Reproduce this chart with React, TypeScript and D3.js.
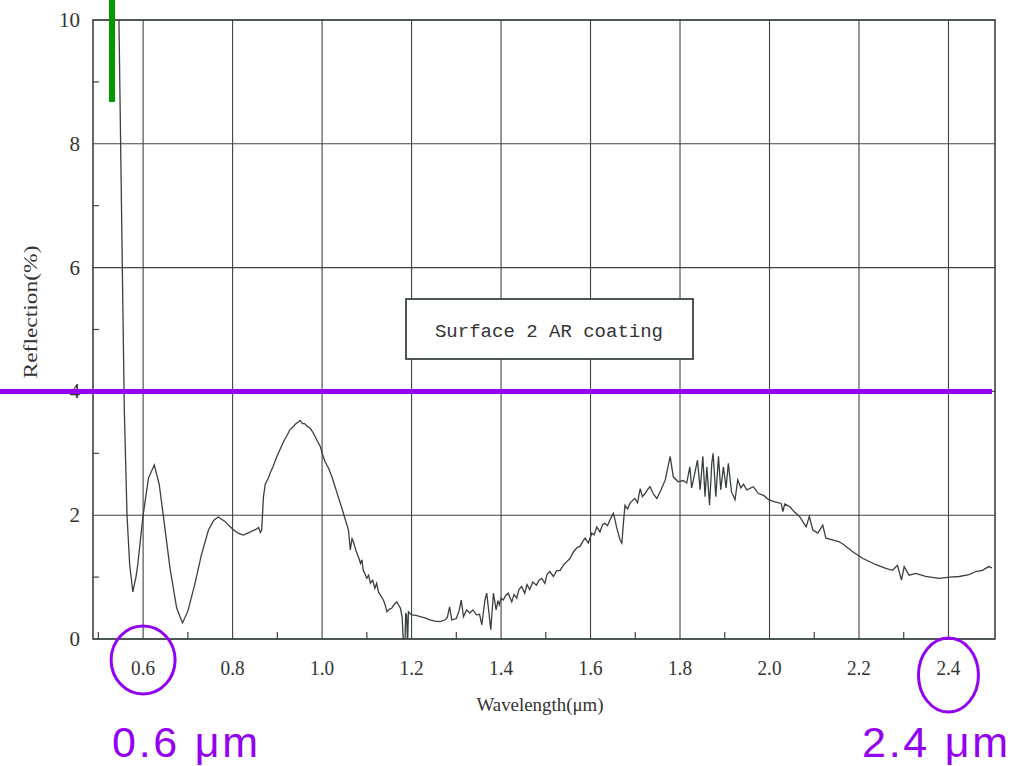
import * as d3 from "d3";

// wavelength (µm) / reflection (%)
const wavelength = [
  0.540, 0.546, 0.552, 0.558, 0.564, 0.570, 0.577, 0.584, 0.588, 0.600, 0.612, 0.625, 0.636, 0.645, 0.660,
  0.675, 0.688, 0.700, 0.716, 0.730, 0.746, 0.758, 0.768, 0.783, 0.798, 0.812, 0.824, 0.840, 0.852, 0.858,
  0.862, 0.865, 0.869, 0.873, 0.880, 0.884, 0.890, 0.899, 0.906, 0.914, 0.921, 0.928, 0.934, 0.940, 0.946,
  0.951, 0.956, 0.961, 0.966, 0.974, 0.981, 0.988, 0.996, 1.001, 1.007, 1.015, 1.022, 1.029, 1.036, 1.044,
  1.051, 1.059, 1.063, 1.067, 1.070, 1.076, 1.081, 1.086, 1.089, 1.092, 1.096, 1.100, 1.104, 1.108, 1.113,
  1.118, 1.122, 1.126, 1.131, 1.137, 1.141, 1.145, 1.150, 1.156, 1.160, 1.167, 1.171, 1.175, 1.179, 1.182,
  1.185, 1.187, 1.189, 1.191, 1.193, 1.200, 1.210, 1.219, 1.230, 1.241, 1.252, 1.264, 1.275, 1.280, 1.285,
  1.290, 1.300, 1.306, 1.311, 1.316, 1.323, 1.330, 1.337, 1.345, 1.352, 1.357, 1.364, 1.368, 1.373, 1.377,
  1.383, 1.389, 1.393, 1.396, 1.400, 1.405, 1.410, 1.416, 1.424, 1.429, 1.435, 1.440, 1.446, 1.453, 1.458,
  1.464, 1.471, 1.479, 1.485, 1.491, 1.498, 1.503, 1.509, 1.517, 1.524, 1.532, 1.540, 1.547, 1.554, 1.562,
  1.569, 1.577, 1.583, 1.588, 1.595, 1.603, 1.608, 1.614, 1.621, 1.627, 1.632, 1.638, 1.643, 1.651, 1.655,
  1.658, 1.666, 1.670, 1.674, 1.677, 1.683, 1.688, 1.694, 1.699, 1.705, 1.711, 1.716, 1.722, 1.728, 1.733,
  1.740, 1.748, 1.757, 1.767, 1.778, 1.785, 1.796, 1.807, 1.815, 1.822, 1.826, 1.833, 1.839, 1.845, 1.851,
  1.856, 1.860, 1.866, 1.871, 1.874, 1.880, 1.886, 1.891, 1.897, 1.903, 1.908, 1.915, 1.923, 1.929, 1.936,
  1.942, 1.949, 1.964, 1.975, 1.987, 1.998, 2.010, 2.026, 2.030, 2.034, 2.045, 2.056, 2.067, 2.082, 2.089,
  2.097, 2.108, 2.119, 2.126, 2.141, 2.156, 2.167, 2.186, 2.209, 2.238, 2.260, 2.275, 2.286, 2.295, 2.301,
  2.312, 2.327, 2.349, 2.379, 2.403, 2.424, 2.446, 2.461, 2.476, 2.483, 2.490, 2.497,
];
const reflection = [
  11.5, 10.0, 6.8, 3.70, 2.00, 1.20, 0.76, 1.00, 1.20, 2.00, 2.60, 2.81, 2.50, 2.00, 1.15,
  0.50, 0.26, 0.45, 0.90, 1.35, 1.76, 1.92, 1.97, 1.90, 1.79, 1.71, 1.68, 1.73, 1.77, 1.80,
  1.72, 1.76, 2.30, 2.50, 2.60, 2.68, 2.78, 2.95, 3.06, 3.19, 3.28, 3.38, 3.42, 3.47, 3.50,
  3.53, 3.48, 3.48, 3.44, 3.40, 3.32, 3.22, 3.11, 2.98, 2.86, 2.75, 2.62, 2.46, 2.30, 2.12,
  1.95, 1.76, 1.44, 1.62, 1.57, 1.42, 1.33, 1.22, 1.28, 1.11, 1.05, 0.98, 1.03, 0.90, 0.95,
  0.82, 0.90, 0.76, 0.70, 0.63, 0.55, 0.44, 0.48, 0.50, 0.55, 0.60, 0.55, 0.50, 0.35, -0.10,
  -0.10, 0.42, 0.38, -0.10, 0.44, 0.39, 0.38, 0.36, 0.34, 0.31, 0.29, 0.28, 0.31, 0.35, 0.52,
  0.31, 0.33, 0.45, 0.63, 0.36, 0.47, 0.42, 0.47, 0.39, 0.40, 0.23, 0.63, 0.74, 0.42, 0.15,
  0.74, 0.47, 0.62, 0.55, 0.66, 0.63, 0.70, 0.74, 0.60, 0.72, 0.66, 0.80, 0.85, 0.74, 0.88,
  0.80, 0.92, 0.87, 0.95, 0.98, 0.90, 1.05, 1.09, 1.01, 1.10, 1.11, 1.20, 1.25, 1.30, 1.41,
  1.47, 1.50, 1.58, 1.63, 1.55, 1.71, 1.68, 1.81, 1.73, 1.85, 1.87, 1.83, 1.92, 2.03, 1.92,
  1.81, 1.60, 1.55, 1.92, 2.16, 2.10, 2.19, 2.24, 2.27, 2.20, 2.43, 2.30, 2.35, 2.42, 2.46,
  2.35, 2.27, 2.40, 2.57, 2.95, 2.62, 2.54, 2.56, 2.52, 2.78, 2.44, 2.68, 2.89, 2.41, 2.95,
  2.30, 2.78, 2.16, 2.84, 3.00, 2.30, 2.95, 2.41, 2.78, 2.44, 2.84, 2.38, 2.25, 2.57, 2.44,
  2.50, 2.41, 2.46, 2.35, 2.32, 2.25, 2.22, 2.19, 2.06, 2.18, 2.14, 2.05, 1.98, 1.81, 1.98,
  1.76, 1.71, 1.84, 1.63, 1.60, 1.57, 1.52, 1.41, 1.30, 1.20, 1.14, 1.11, 1.19, 0.95, 1.17,
  1.03, 1.06, 1.01, 0.98, 1.00, 1.01, 1.04, 1.09, 1.11, 1.14, 1.17, 1.15,
];

const xMajor = [0.6, 0.8, 1.0, 1.2, 1.4, 1.6, 1.8, 2.0, 2.2, 2.4];
const xMinor = [0.5, 0.7, 0.9, 1.1, 1.3, 1.5, 1.7, 1.9, 2.1, 2.3];
const yMajor = [0, 2, 4, 6, 8, 10];
const yMinor = [1, 3, 5, 7, 9];
const marked = [0.6, 2.4];

const W = 1021;
const H = 766;
const frame = { left: 93, right: 995, top: 20, bottom: 639 };
const purple = "#9300f2";
const ink = "#3c4446";

export default function App() {
  const x = d3.scaleLinear().domain([0.488, 2.504]).range([frame.left, frame.right]);
  const y = d3.scaleLinear().domain([0, 10]).range([frame.bottom, frame.top]);

  const points = wavelength.map((w, i) => [w, reflection[i]] as [number, number]);
  const line = d3
    .line<[number, number]>()
    .x((d) => x(d[0]))
    .y((d) => y(d[1]));

  return (
    <svg
      width={W}
      height={H}
      style={{ position: "absolute", left: 0, top: 0, background: "#fff" }}
    >
      <defs>
        <clipPath id="plot">
          <rect x={frame.left} y={frame.top} width={frame.right - frame.left} height={frame.bottom - frame.top} />
        </clipPath>
      </defs>

      {/* grid */}
      {xMajor.map((t) => (
        <line key={"gx" + t} x1={x(t)} x2={x(t)} y1={frame.top} y2={frame.bottom} stroke={ink} strokeWidth={1.1} />
      ))}
      {yMajor.map((t) => (
        <line key={"gy" + t} x1={frame.left} x2={frame.right} y1={y(t)} y2={y(t)} stroke={ink} strokeWidth={1.1} />
      ))}
      {xMinor.map((t) => (
        <line key={"mx" + t} x1={x(t)} x2={x(t)} y1={frame.bottom} y2={frame.bottom - 7} stroke={ink} strokeWidth={1.2} />
      ))}
      {yMinor.map((t) => (
        <line key={"my" + t} x1={frame.left} x2={frame.left + 6} y1={y(t)} y2={y(t)} stroke={ink} strokeWidth={1.2} />
      ))}
      <rect
        x={frame.left}
        y={frame.top}
        width={frame.right - frame.left}
        height={frame.bottom - frame.top}
        fill="none"
        stroke={ink}
        strokeWidth={1.6}
      />

      {/* tick labels */}
      <g fontFamily="'Liberation Serif', serif" fill="#333">
        {xMajor.map((t) => (
          <text
            key={"lx" + t}
            x={x(t)}
            y={675}
            fontSize={20}
            textAnchor="middle"
            textLength={24}
            lengthAdjust="spacingAndGlyphs"
          >
            {t.toFixed(1)}
          </text>
        ))}
        {yMajor.map((t) => (
          <text key={"ly" + t} x={80} y={y(t) + 7} fontSize={21} textAnchor="end">
            {t}
          </text>
        ))}
        <text x={540} y={711} fontSize={19} textAnchor="middle" textLength={127} lengthAdjust="spacingAndGlyphs">
          Wavelength(μm)
        </text>
        <text
          transform="translate(37,312) rotate(-90)"
          fontSize={19}
          textAnchor="middle"
          textLength={133}
          lengthAdjust="spacingAndGlyphs"
        >
          Reflection(%)
        </text>
      </g>

      {/* measured curve */}
      <path d={line(points) ?? ""} fill="none" stroke="#3a3f40" strokeWidth={1.3} clipPath="url(#plot)" />

      {/* annotation box */}
      <rect x={406} y={299} width={287} height={60} fill="#fff" stroke={ink} strokeWidth={1.8} />
      <text x={549} y={337} fontFamily="'Liberation Mono', monospace" fontSize={19} textAnchor="middle" fill="#333">
        Surface 2 AR coating
      </text>

      {/* overlays */}
      <line x1={0} x2={992} y1={y(4)} y2={y(4)} stroke={purple} strokeWidth={5} />
      <line x1={112} x2={112} y1={0} y2={102} stroke="#009a00" strokeWidth={6} />
      <ellipse cx={x(marked[0])} cy={660} rx={32} ry={34} fill="none" stroke={purple} strokeWidth={3} />
      <ellipse cx={x(marked[1])} cy={675} rx={30} ry={37} fill="none" stroke={purple} strokeWidth={3} />
      <g fontFamily="'Liberation Sans', Arial, sans-serif" fontSize={43} fill={purple}>
        <text x={112} y={757} textLength={146} lengthAdjust="spacing">
          {marked[0].toFixed(1)} μm
        </text>
        <text x={862} y={757} textLength={146} lengthAdjust="spacing">
          {marked[1].toFixed(1)} μm
        </text>
      </g>
    </svg>
  );
}
